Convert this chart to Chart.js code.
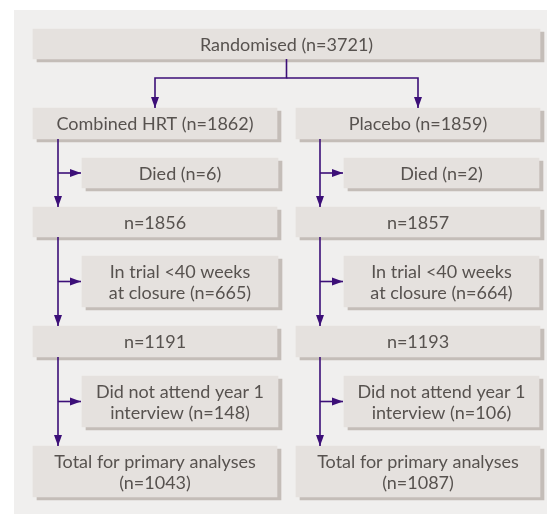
<!DOCTYPE html>
<html>
<head>
<meta charset="utf-8">
<script src="https://cdn.jsdelivr.net/npm/chart.js@4.4.0/dist/chart.umd.min.js"></script>
<style>
  body { margin: 0; background: #fff; }
  #wrap { width: 547px; height: 515px; }
</style>
</head>
<body>
<div id="wrap"><canvas id="flow"></canvas></div>
<script>
// Trial numbers
const totalRandomised = 3721;
const groups = ['Combined HRT', 'Placebo'];
const allocated = [1862, 1859];
const died = [6, 2];
const afterDeaths = [1856, 1857];
const shortFollowUp = [665, 664];
const afterClosure = [1191, 1193];
const missedYear1 = [148, 106];
const analysed = [1043, 1087];

// Layout, in scale units (1 unit = 1px)
const colMain = [[33, 277], [296, 540]];
const colSide = [[82, 278], [344, 539]];
const trunkX = [58, 320];
const rowTop = [29, 108, 158, 207, 256, 326, 376, 446];
const rowHeight = [30, 31, 30, 30, 51, 31, 51, 51];
const shadowShift = [4, 3];

const FONT = '18px Lato';
const TEXT_COLOR = '#57524f';
const ARROW_COLOR = '#3c0f78';

const rowMid = r => rowTop[r] + rowHeight[r] / 2;

// Boxes
const boxes = [{ row: 0, span: [33, 540], lines: [`Randomised (n=${totalRandomised})`] }];
groups.forEach((name, g) => {
  boxes.push({ row: 1, span: colMain[g], lines: [`${name} (n=${allocated[g]})`] });
  boxes.push({ row: 2, span: colSide[g], lines: [`Died (n=${died[g]})`] });
  boxes.push({ row: 3, span: colMain[g], lines: [`n=${afterDeaths[g]}`] });
  boxes.push({ row: 4, span: colSide[g], lines: ['In trial <40 weeks', `at closure (n=${shortFollowUp[g]})`] });
  boxes.push({ row: 5, span: colMain[g], lines: [`n=${afterClosure[g]}`] });
  boxes.push({ row: 6, span: colSide[g], lines: ['Did not attend year 1', `interview (n=${missedYear1[g]})`] });
  boxes.push({ row: 7, span: colMain[g], lines: ['Total for primary analyses', `(n=${analysed[g]})`] });
});

// Connectors (each ends in an arrowhead)
const topMid = (33 + 540) / 2;
const bottom = r => rowTop[r] + rowHeight[r];
const colMid = g => (colMain[g][0] + colMain[g][1]) / 2;
const connectors = [
  [[topMid, bottom(0)], [topMid, 78], [colMid(0), 78], [colMid(0), rowTop[1]]],
  [[topMid, 78], [colMid(1), 78], [colMid(1), rowTop[1]]]
];
trunkX.forEach((tx, g) => {
  const sideX = colSide[g][0] - 1;
  connectors.push([[tx, bottom(1)], [tx, rowTop[3]]]);
  connectors.push([[tx, rowMid(2)], [sideX, rowMid(2)]]);
  connectors.push([[tx, bottom(3)], [tx, rowTop[5]]]);
  connectors.push([[tx, rowMid(4)], [sideX, rowMid(4)]]);
  connectors.push([[tx, bottom(5)], [tx, rowTop[7]]]);
  connectors.push([[tx, rowMid(6)], [sideX, rowMid(6)]]);
});

// Build bar datasets, one per box height (bar thickness is per dataset)
function boxDatasets(shadow) {
  const heights = [...new Set(rowHeight)];
  return heights.map(h => {
    const list = boxes.filter(b => rowHeight[b.row] === h);
    const dx = shadow ? shadowShift[0] : 0;
    const dy = shadow ? shadowShift[1] : 0;
    return {
      type: 'bar',
      data: list.map(b => ({ y: rowMid(b.row) + dy, x: [b.span[0] + dx, b.span[1] + dx] })),
      lines: shadow ? null : list.map(b => b.lines),
      backgroundColor: shadow ? '#c4bdb8' : '#e5e1de',
      borderWidth: 0,
      borderSkipped: false,
      barThickness: h,
      grouped: false,
      order: shadow ? 3 : 2
    };
  });
}

const lineSets = connectors.map(pts => ({
  type: 'line',
  data: pts.map(p => ({ x: p[0], y: p[1] })),
  borderColor: ARROW_COLOR,
  borderWidth: 1.6,
  pointRadius: 0,
  fill: false,
  tension: 0,
  arrow: true,
  order: 1
}));

// Panel background
const panelPlugin = {
  id: 'panel',
  beforeDatasetsDraw(chart) {
    const { ctx, scales: { x, y } } = chart;
    ctx.save();
    ctx.fillStyle = '#f0efee';
    const x0 = x.getPixelForValue(14), y0 = y.getPixelForValue(10);
    ctx.fillRect(x0, y0, x.getPixelForValue(547) - x0, y.getPixelForValue(514) - y0);
    ctx.restore();
  }
};

// Arrowheads and box labels
const annotatePlugin = {
  id: 'annotate',
  afterDatasetsDraw(chart) {
    const ctx = chart.ctx;
    ctx.save();
    chart.data.datasets.forEach((ds, i) => {
      const meta = chart.getDatasetMeta(i);
      if (ds.arrow) {
        const n = meta.data.length;
        const a = meta.data[n - 2], b = meta.data[n - 1];
        const ang = Math.atan2(b.y - a.y, b.x - a.x);
        const len = 11, half = 4;
        ctx.fillStyle = ARROW_COLOR;
        ctx.beginPath();
        ctx.moveTo(b.x, b.y);
        ctx.lineTo(b.x - len * Math.cos(ang) - half * Math.sin(ang), b.y - len * Math.sin(ang) + half * Math.cos(ang));
        ctx.lineTo(b.x - len * Math.cos(ang) + half * Math.sin(ang), b.y - len * Math.sin(ang) - half * Math.cos(ang));
        ctx.closePath();
        ctx.fill();
      }
      if (ds.lines) {
        ctx.font = FONT;
        ctx.fillStyle = TEXT_COLOR;
        ctx.textAlign = 'center';
        ctx.textBaseline = 'middle';
        meta.data.forEach((el, j) => {
          const { x, base, y } = el.getProps(['x', 'base', 'y'], true);
          const cx = (x + base) / 2;
          const lines = ds.lines[j];
          const lh = 20.5;
          lines.forEach((t, k) => {
            ctx.fillText(t, cx, y + (k - (lines.length - 1) / 2) * lh + 1);
          });
        });
      }
    });
    ctx.restore();
  }
};

new Chart(document.getElementById('flow'), {
  type: 'bar',
  data: {
    datasets: [...lineSets, ...boxDatasets(false), ...boxDatasets(true)]
  },
  options: {
    indexAxis: 'y',
    responsive: true,
    maintainAspectRatio: false,
    animation: false,
    layout: { padding: 0 },
    scales: {
      x: { type: 'linear', min: 0, max: 547, offset: false, display: false },
      y: { type: 'linear', min: 0, max: 515, reverse: true, offset: false, display: false }
    },
    plugins: {
      legend: { display: false },
      tooltip: { enabled: false }
    }
  },
  plugins: [panelPlugin, annotatePlugin]
});
</script>
</body>
</html>
